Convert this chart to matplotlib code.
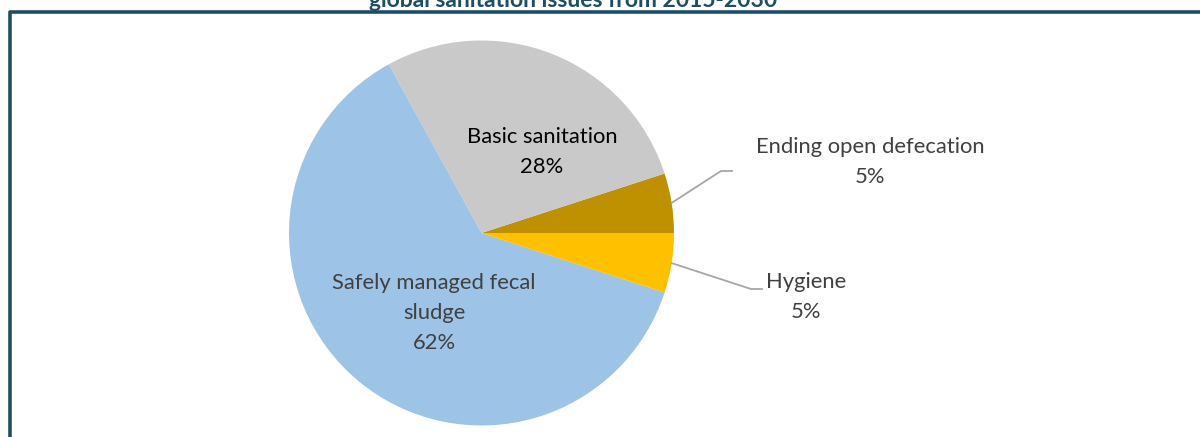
import numpy as np
import matplotlib.pyplot as plt

# pie data (counter-clockwise from 3 o'clock)
categories = ['Ending open defecation', 'Basic sanitation', 'Safely managed fecal\nsludge', 'Hygiene']
shares = [5, 28, 62, 5]
colors = ['#BF9000', '#C9C9C9', '#9DC3E6', '#FFC000']
title = 'global sanitation issues from 2015-2030'

plt.rcParams['font.family'] = ['Lato', 'DejaVu Sans']

W, H = 1200, 437
fig = plt.figure(figsize=(W / 100, H / 100), dpi=100)
ax = fig.add_axes([0, 0, 1, 1])

cx, cy, r = 481.5, H - 233, 192.5
wedges, _ = ax.pie(shares, colors=colors, startangle=0, counterclock=True,
                   center=(cx, cy), radius=r, frame=True,
                   wedgeprops=dict(linewidth=0))
ax.set_xlim(0, W)
ax.set_ylim(0, H)
ax.set_aspect('equal')
ax.axis('off')

total = sum(shares)
pct = [f'{round(v / total * 100)}%' for v in shares]
dark = '#404040'
fs = 15.8
ls = 1.62

# inside labels
ax.text(542, H - 152, f'{categories[1]}\n{pct[1]}', ha='center', va='center',
        fontsize=fs, color='black', linespacing=ls)
ax.text(434, H - 313, f'{categories[2]}\n{pct[2]}', ha='center', va='center',
        fontsize=fs, color=dark, linespacing=ls)

# outside labels with leader lines
outside = [(0, (721, H - 171), (732, H - 171), (870, H - 162)),
           (3, (751, H - 289), (762, H - 289), (806, H - 297))]
for i, elbow, end, txt in outside:
    w = wedges[i]
    mid = np.deg2rad((w.theta1 + w.theta2) / 2)
    sx, sy = cx + r * np.cos(mid), cy + r * np.sin(mid)
    ax.plot([sx, elbow[0], end[0]], [sy, elbow[1], end[1]], color='#A6A6A6', lw=1.3)
    ax.text(txt[0], txt[1], f'{categories[i]}\n{pct[i]}', ha='center', va='center',
            fontsize=fs, color=dark, linespacing=ls)

# title, cut off at the top as in the original
fig.text(573 / W, 1 - 7 / H, title, ha='center', va='baseline', fontsize=16.5,
         fontweight='bold', color='#1F4E63')

# chart frame
ax.plot([9.5, 9.5, W + 5], [-5, H - 11.5, H - 11.5], color='#1F4E63', lw=2.6,
        solid_capstyle='projecting', clip_on=False)

fig.savefig('out.png', dpi=100)
